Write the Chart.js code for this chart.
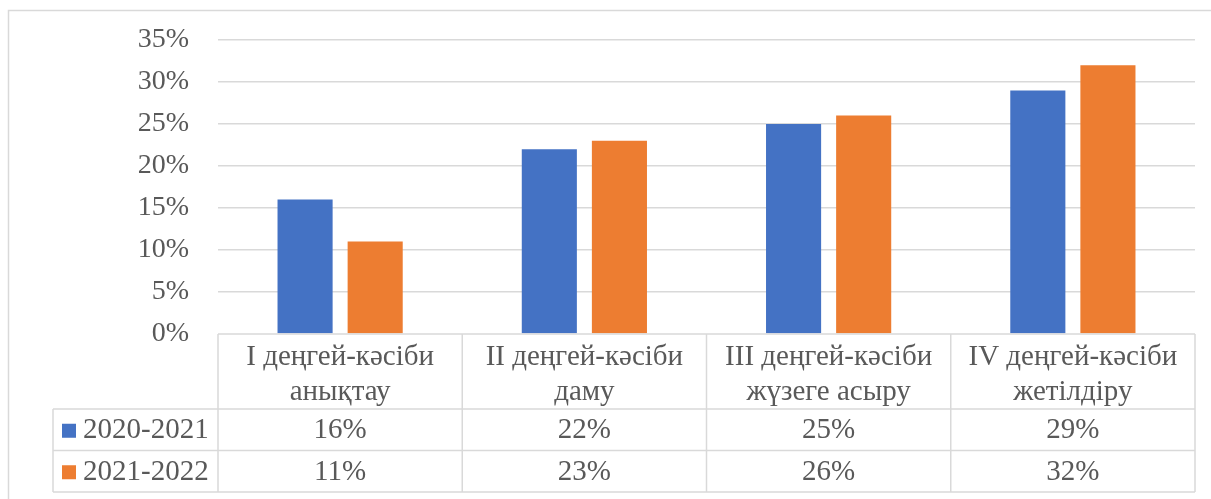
<!DOCTYPE html>
<html>
<head>
<meta charset="utf-8">
<script src="https://cdn.jsdelivr.net/npm/chart.js@4.4.1/dist/chart.umd.min.js"></script>
<style>
  html, body { margin: 0; padding: 0; background: #ffffff; }
  #wrap { position: relative; width: 1211px; height: 499px; }
</style>
</head>
<body>
<div id="wrap"><canvas id="c" width="1211" height="499"></canvas></div>
<script>
// Category labels (two lines each, as shown in the table header)
const categories = [
  ['I деңгей-кәсіби', 'анықтау'],
  ['II деңгей-кәсіби', 'даму'],
  ['III деңгей-кәсіби', 'жүзеге асыру'],
  ['IV деңгей-кәсіби', 'жетілдіру']
];
const seriesNames = ['2020-2021', '2021-2022'];
const values2020 = [16, 22, 25, 29];
const values2021 = [11, 23, 26, 32];
const yTicks = [0, 5, 10, 15, 20, 25, 30, 35];

const colors = ['#4472C4', '#ED7D31'];
const textColor = '#595959';
const lineColor = '#D9D9D9';
const fontFamily = '"Liberation Serif", "Times New Roman", serif';
const tableFontSize = 29;
const axisFontSize = 28;

// Frame around the whole chart
const framePlugin = {
  id: 'frame',
  beforeDraw(chart) {
    const ctx = chart.ctx;
    ctx.save();
    ctx.fillStyle = '#ffffff';
    ctx.fillRect(0, 0, chart.width, chart.height);
    ctx.strokeStyle = lineColor;
    ctx.lineWidth = 1.5;
    ctx.beginPath();
    ctx.moveTo(8.5, chart.height);
    ctx.lineTo(8.5, 10.5);
    ctx.lineTo(chart.width, 10.5);
    ctx.stroke();
    ctx.restore();
  }
};

// Data table drawn under the plot area, aligned to the category scale
const dataTablePlugin = {
  id: 'dataTable',
  afterDraw(chart) {
    const ctx = chart.ctx;
    const area = chart.chartArea;
    const xs = chart.scales.x;
    const n = categories.length;
    const colW = (area.right - area.left) / n;
    const top = area.bottom;
    const headerH = 75;
    const rowH = 41.5;
    const legendLeft = 53;
    const rows = [values2020, values2021];
    const yHeader = top + headerH;
    const yBottom = yHeader + rowH * rows.length;

    ctx.save();
    ctx.strokeStyle = lineColor;
    ctx.lineWidth = 1.5;
    ctx.beginPath();
    // horizontal lines
    ctx.moveTo(area.left, top); ctx.lineTo(area.right, top);
    for (let r = 0; r <= rows.length; r++) {
      const y = yHeader + rowH * r;
      ctx.moveTo(legendLeft, y); ctx.lineTo(area.right, y);
    }
    // vertical lines
    for (let i = 0; i <= n; i++) {
      const x = area.left + colW * i;
      ctx.moveTo(x, top); ctx.lineTo(x, yBottom);
    }
    ctx.moveTo(legendLeft, yHeader); ctx.lineTo(legendLeft, yBottom);
    ctx.stroke();

    ctx.fillStyle = textColor;
    ctx.font = tableFontSize + 'px ' + fontFamily;
    ctx.textAlign = 'center';
    ctx.textBaseline = 'middle';
    // header: category names
    categories.forEach((lines, i) => {
      const cx = xs.getPixelForValue(i);
      lines.forEach((t, k) => {
        ctx.fillText(t, cx, top + 23 + k * 35);
      });
    });
    // value rows
    rows.forEach((vals, r) => {
      const cy = yHeader + rowH * r + rowH / 2 + 1;
      vals.forEach((v, i) => {
        ctx.fillText(v + '%', xs.getPixelForValue(i), cy);
      });
      // legend key + series name
      ctx.fillStyle = colors[r];
      ctx.fillRect(62, cy - 7, 14, 14);
      ctx.fillStyle = textColor;
      ctx.textAlign = 'left';
      ctx.fillText(seriesNames[r], 83, cy);
      ctx.textAlign = 'center';
    });
    ctx.restore();
  }
};

new Chart(document.getElementById('c'), {
  type: 'bar',
  data: {
    labels: categories,
    datasets: [
      { label: seriesNames[0], data: values2020, backgroundColor: colors[0] },
      { label: seriesNames[1], data: values2021, backgroundColor: colors[1] }
    ]
  },
  options: {
    responsive: false,
    animation: false,
    devicePixelRatio: 1,
    layout: { padding: { left: 0, top: 40, right: 16, bottom: 165 } },
    datasets: { bar: { categoryPercentage: 0.574, barPercentage: 0.786 } },
    plugins: { legend: { display: false }, tooltip: { enabled: false } },
    scales: {
      x: { display: false },
      y: {
        min: 0,
        max: 35,
        afterFit(scale) {
          scale.width = 218;
          scale.paddingTop = 17;
          scale.paddingBottom = 17;
        },
        afterBuildTicks(scale) { scale.ticks = yTicks.map(v => ({ value: v })); },
        border: { display: false },
        grid: {
          color: (c) => c.tick && c.tick.value === 0 ? 'rgba(0,0,0,0)' : lineColor,
          lineWidth: 1.5,
          drawTicks: false
        },
        ticks: {
          padding: 29,
          color: textColor,
          font: { family: fontFamily, size: axisFontSize },
          callback: (v) => v + '%'
        }
      }
    }
  },
  plugins: [framePlugin, dataTablePlugin]
});
</script>
</body>
</html>
